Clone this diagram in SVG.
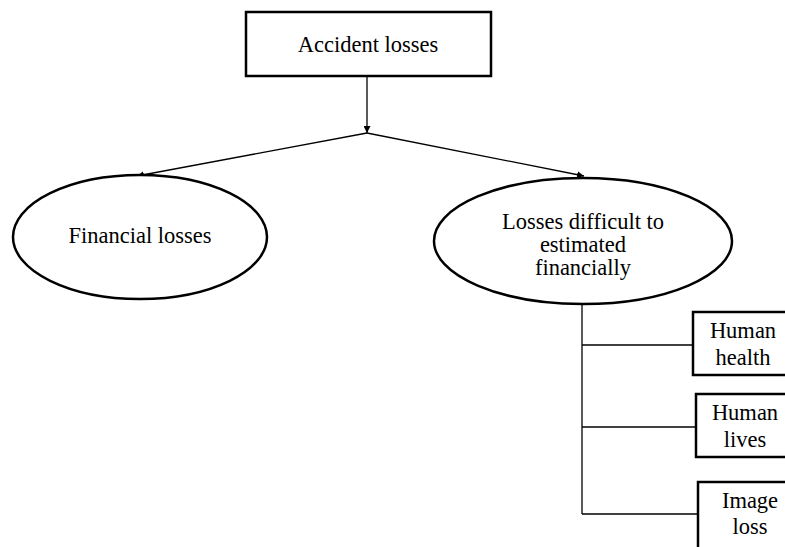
<svg xmlns="http://www.w3.org/2000/svg" width="785" height="547" viewBox="0 0 785 547">
  <style>
    .box { fill: #fff; stroke: #000; stroke-width: 2.5; }
    .oval { fill: #fff; stroke: #000; stroke-width: 2.5; }
    .lbl { font-family: "Liberation Serif", "Times New Roman", serif; font-size: 22.5px; fill: #000; text-anchor: middle; }
    .wire { fill: none; stroke: #000; stroke-width: 1.3; }
  </style>
  <defs>
    <marker id="tip" viewBox="0 0 10 10" refX="10" refY="5" markerWidth="7" markerHeight="7" markerUnits="userSpaceOnUse" orient="auto">
      <path d="M0,0 L10,5 L0,10 z" fill="#000"/>
    </marker>
  </defs>

  <rect width="785" height="547" fill="#fff"/>

  <g id="connectors">
    <line class="wire" x1="367" y1="76" x2="367" y2="133" marker-end="url(#tip)"/>
    <line class="wire" x1="367" y1="133" x2="137" y2="176" marker-end="url(#tip)"/>
    <line class="wire" x1="367" y1="133" x2="584" y2="176" marker-end="url(#tip)"/>
    <line class="wire" x1="582" y1="304" x2="582" y2="514"/>
    <line class="wire" x1="582" y1="345" x2="693" y2="345"/>
    <line class="wire" x1="582" y1="427" x2="696" y2="427"/>
    <line class="wire" x1="582" y1="514" x2="698" y2="514"/>
  </g>

  <g id="accident-losses">
    <rect class="box" x="246" y="12" width="245" height="64"/>
    <text class="lbl" x="368" y="52">Accident losses</text>
  </g>

  <g id="financial-losses">
    <ellipse class="oval" cx="140" cy="237" rx="127" ry="62"/>
    <text class="lbl" x="140" y="243">Financial losses</text>
  </g>

  <g id="difficult-losses">
    <ellipse class="oval" cx="583" cy="241" rx="149" ry="63"/>
    <text class="lbl" x="583" y="229">Losses difficult to</text>
    <text class="lbl" x="583" y="252">estimated</text>
    <text class="lbl" x="583" y="275">financially</text>
  </g>

  <g id="human-health">
    <rect class="box" x="693" y="312" width="100" height="63"/>
    <text class="lbl" x="743" y="338">Human</text>
    <text class="lbl" x="743" y="365">health</text>
  </g>

  <g id="human-lives">
    <rect class="box" x="696" y="394" width="100" height="63"/>
    <text class="lbl" x="745" y="420">Human</text>
    <text class="lbl" x="745" y="447">lives</text>
  </g>

  <g id="image-loss">
    <rect class="box" x="698" y="482" width="100" height="80"/>
    <text class="lbl" x="750" y="508">Image</text>
    <text class="lbl" x="750" y="534">loss</text>
  </g>
</svg>
